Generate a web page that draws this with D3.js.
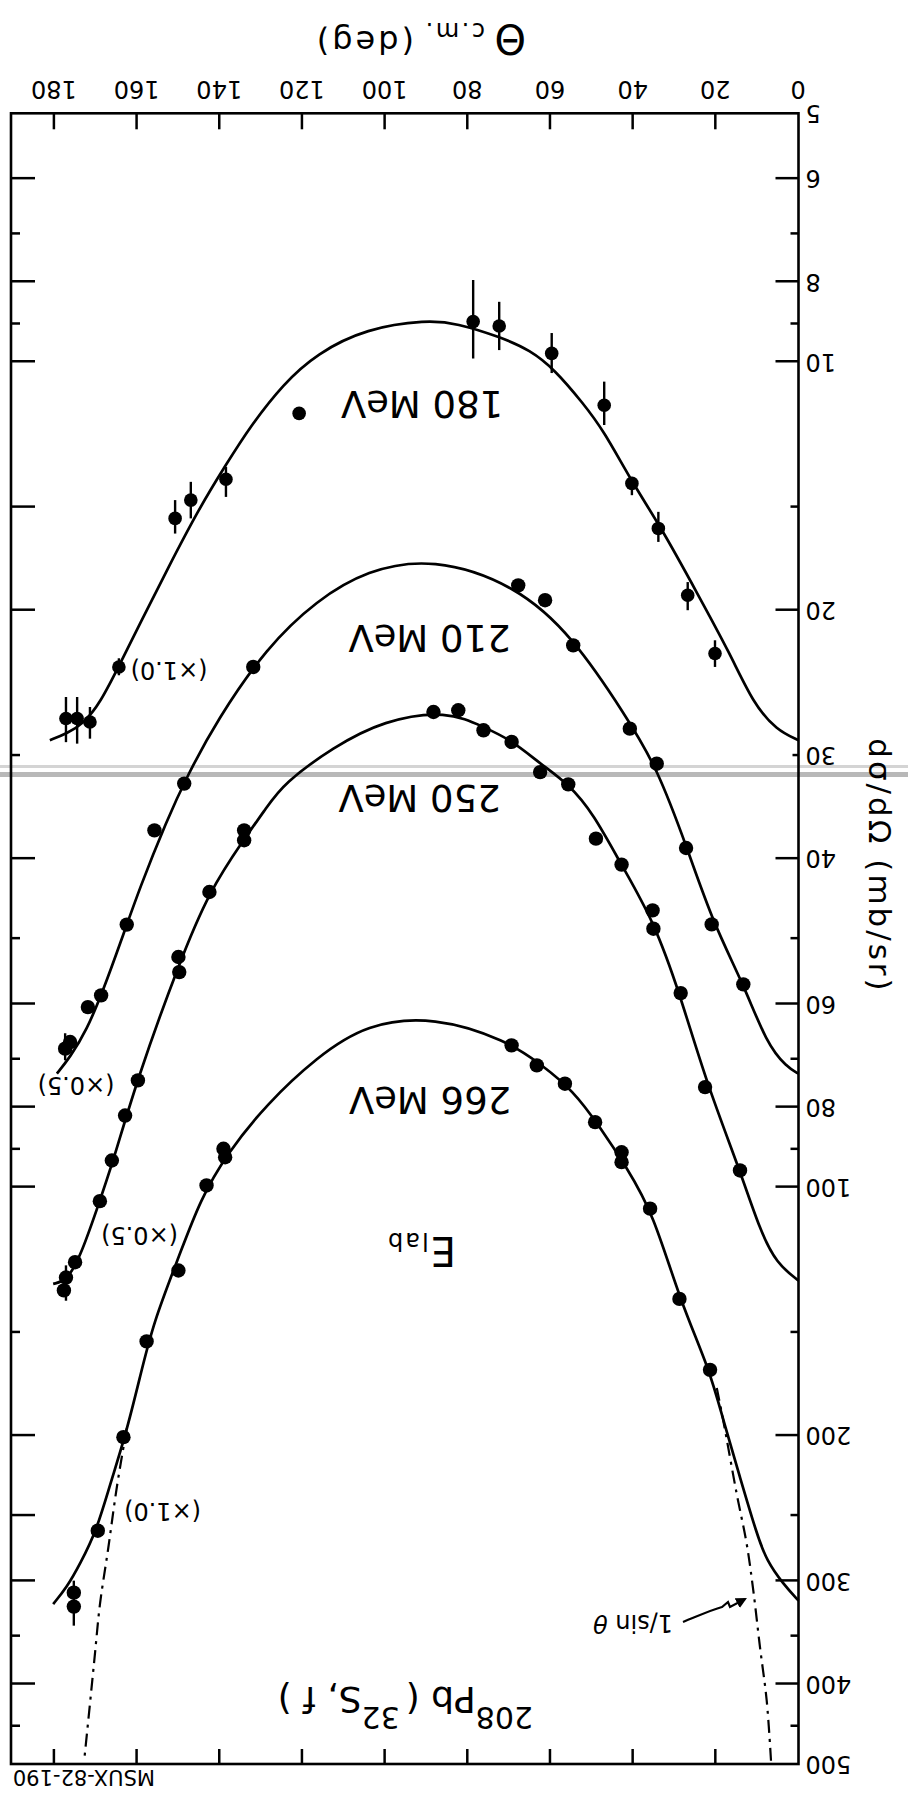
<!DOCTYPE html>
<html>
<head>
<meta charset="utf-8">
<script src="https://cdn.jsdelivr.net/npm/d3@7"></script>
<style>
  html, body { margin: 0; padding: 0; background: #fff; }
  svg { display: block; }
  text { font-family: "DejaVu Sans", sans-serif; fill: #000; }
</style>
</head>
<body>
<svg id="chart" width="908" height="1796"></svg>
<script>
// ---- axis ticks ----
const thetaTicks = [0, 20, 40, 60, 80, 100, 120, 140, 160, 180];
const sigmaLabelTicks = [5, 6, 8, 10, 20, 30, 40, 60, 80, 100, 200, 300, 400, 500];
const sigmaMinorTicks = [7, 9, 15, 50, 70, 90, 150, 250, 350, 450];

// ---- measured cross sections, E_lab = 180 MeV (x1.0) ----
const theta180 = [78.7, 72.4, 59.7, 47.0, 40.3, 33.9, 26.8, 20.2, 120.8, 138.5, 147.0, 150.8, 164.4, 171.4, 174.5, 177.2];
const sigma180 = [8.94, 9.05, 9.77, 11.29, 14.04, 15.92, 19.18, 22.57, 11.55, 13.88, 14.71, 15.48, 23.43, 27.32, 27.05, 27.05];
const lo180 = [7.96, 8.46, 9.23, 10.57, 13.79, 15.2, 18.49, 21.75, null, 13.41, 13.98, 14.71, 22.87, 26.2, 25.48, 25.48];
const hi180 = [9.91, 9.68, 10.32, 11.93, 14.51, 16.53, 20.0, 23.43, null, 14.58, 15.48, 16.15, 23.98, 28.62, 29.02, 28.9];

// ---- 210 MeV (x0.5) ----
const theta210 = [67.8, 61.3, 54.5, 40.8, 34.3, 27.2, 21.0, 13.35, 131.9, 148.6, 155.8, 162.5, 168.7, 171.9, 176.2, 177.4];
const sigma210 = [18.66, 19.45, 22.06, 27.83, 30.69, 38.83, 48.05, 56.8, 23.43, 32.44, 36.96, 48.08, 58.57, 60.52, 66.72, 67.96];
const lo210 = [null, null, null, null, null, null, null, null, null, null, null, null, null, null, null, 65.1];
const hi210 = [null, null, null, null, null, null, null, null, null, null, null, null, null, null, null, 70.2];

// ---- 250 MeV (x0.5) ----
const theta250 = [82.3, 76.2, 69.4, 62.5, 55.7, 49.0, 42.8, 35.3, 35.1, 28.5, 22.6, 14.15, 88.3, 134.1, 134.1, 142.5, 150.0, 149.8, 159.8, 162.9, 166.1, 169.0, 175.0, 177.2, 177.7];
const sigma250 = [26.44, 27.96, 28.88, 31.42, 32.51, 37.83, 40.67, 46.21, 48.63, 58.2, 75.65, 95.46, 26.57, 36.96, 38.0, 43.9, 52.63, 54.89, 74.25, 81.9, 92.84, 104.0, 123.3, 128.7, 133.4];
const lo250 = theta250.map((t, i) => i === 23 ? 124.4 : null);
const hi250 = theta250.map((t, i) => i === 23 ? 137.3 : null);

// ---- 266 MeV (x1.0) ----
const theta266 = [69.4, 63.3, 56.5, 49.2, 42.8, 42.8, 35.9, 28.8, 21.4, 139.1, 138.7, 143.2, 150.0, 157.7, 163.3, 169.5, 175.3, 175.3];
const sigma266 = [67.34, 71.21, 74.94, 83.42, 90.73, 93.28, 106.2, 136.6, 166.5, 89.85, 91.99, 99.54, 126.2, 153.8, 200.9, 260.8, 310.0, 322.3];
const lo266 = theta266.map((t, i) => i === 17 ? 299.8 : null);
const hi266 = theta266.map((t, i) => i === 17 ? 339.9 : null);

// ---- fitted angular distributions ----
const fitTheta180 = [0, 5.27, 10.93, 16.57, 24.24, 33.09, 40.1, 47.2, 52.1, 58.9, 64.9, 72.2, 82.7, 89.9, 104.5, 116.5, 124.6, 132.7, 138.3, 144.8, 152.8, 159.3, 164.1, 169.0, 173.0, 177.0, 181.1];
const fitSigma180 = [28.74, 27.96, 25.95, 22.57, 19.18, 15.92, 14.04, 12.10, 11.23, 10.23, 9.68, 9.33, 8.98, 8.90, 9.11, 9.77, 10.63, 11.99, 13.28, 14.99, 17.89, 20.76, 23.21, 25.95, 27.44, 28.21, 28.74];

const fitTheta210 = [0, 2.85, 7.7, 13.35, 20.6, 27.0, 34.3, 41.6, 54.5, 68.2, 88.5, 104.5, 116.5, 128.6, 140.7, 148.0, 152.8, 159.3, 164.1, 168.2, 172.2, 176.2, 179.4];
const fitSigma210 = [72.87, 71.54, 67.03, 56.69, 47.95, 38.73, 30.97, 26.94, 21.55, 18.66, 17.26, 17.89, 19.45, 22.16, 27.19, 31.85, 35.94, 43.30, 50.71, 57.77, 64.58, 69.57, 72.87];

const fitTheta250 = [0, 5.27, 9.3, 14.15, 22.2, 28.7, 35.1, 42.8, 49.6, 55.7, 62.5, 69.4, 76.2, 85.0, 100.4, 112.5, 124.6, 128.6, 134.3, 142.4, 149.6, 160.1, 165.7, 169.8, 173.8, 177.0, 180.3];
const fitSigma250 = [129.8, 123.8, 112.9, 95.46, 74.94, 58.31, 47.51, 40.75, 35.28, 32.44, 30.69, 28.74, 27.7, 26.45, 27.19, 29.3, 32.44, 34.64, 38.0, 43.7, 53.12, 74.25, 92.84, 106.7, 121.6, 129.8, 131.0];

const fitTheta266 = [0, 3.7, 7.7, 10.1, 14.15, 18.2, 21.4, 28.7, 35.1, 41.6, 48.0, 54.5, 62.5, 70.6, 88.0, 104.5, 116.5, 128.6, 138.3, 144.8, 149.6, 156.1, 159.3, 162.9, 166.5, 169.8, 173.8, 177.0, 180.3];
const fitSigma266 = [317.0, 302.6, 283.6, 263.2, 224.7, 191.8, 166.8, 137.2, 107.7, 94.58, 84.6, 76.35, 70.87, 66.41, 62.1, 63.38, 69.57, 79.25, 91.13, 103.8, 120.4, 146.0, 170.0, 200.9, 228.8, 260.8, 286.2, 305.5, 320.0];

// ---- 1/sin(theta) reference, forward and backward branches ----
const sinFwdTheta = [6.65, 7.69, 9.31, 10.93, 12.53, 14.95, 18.2, 19.8];
const sinFwdSigma = [495.5, 419.0, 361.1, 308.3, 270.6, 235.3, 191.8, 174.8];
const sinBwdTheta = [162.5, 164.9, 166.95, 168.97, 170.2, 171.4, 172.8];
const sinBwdSigma = [196.0, 231.0, 273.3, 319.9, 368.0, 422.9, 495.5];

// ---- text ----
const energyLabels = ["180 MeV", "210 MeV", "250 MeV", "266 MeV"];
const scaleLabels = ["(\u00d71.0)", "(\u00d70.5)", "(\u00d70.5)", "(\u00d71.0)"];

const W = 908, H = 1796;
const svg = d3.select("#chart");
svg.append("rect").attr("width", W).attr("height", H).attr("fill", "#fff");

// faint horizontal band across the sheet
svg.append("rect").attr("x", 0).attr("y", 765).attr("width", W).attr("height", 3).attr("fill", "#d4d4d4");
svg.append("rect").attr("x", 0).attr("y", 772).attr("width", W).attr("height", 5).attr("fill", "#b8b8b8");

// the whole figure is drawn in its natural orientation and turned half a revolution
const g = svg.append("g").attr("transform", `rotate(180,${W / 2},${H / 2})`);

const frame = { left: 109.5, right: 897, top: 32, bottom: 1682.7 };
const x = d3.scaleLinear().domain([0, 180]).range([109.5, 853.6]);
const y = d3.scaleLog().domain([5, 500]).range([frame.bottom, frame.top]);

const INK = "#000";
function styleAxis(sel, fs) {
  sel.attr("font-family", "DejaVu Sans, sans-serif").attr("font-size", fs);
  sel.select(".domain").remove();
  sel.selectAll(".tick line").attr("stroke", INK).attr("stroke-width", 2.5);
  sel.selectAll(".tick text").attr("fill", INK);
}

// left (value) axis with labels
const leftLab = g.append("g").attr("transform", `translate(${frame.left},0)`)
  .call(d3.axisLeft(y).tickValues(sigmaLabelTicks).tickFormat(d => String(d)).tickSize(-23).tickPadding(7));
styleAxis(leftLab, 24);
leftLab.selectAll(".tick line").attr("x2", d => (d === 5 || d === 500) ? 0 : (d === 30 ? 6 : 23));

const leftMinor = g.append("g").attr("transform", `translate(${frame.left},0)`)
  .call(d3.axisLeft(y).tickValues(sigmaMinorTicks).tickFormat("").tickSize(-8));
styleAxis(leftMinor, 24);

// opposite value axis, ticks only
const rightMajorVals = [6, 8, 10, 15, 20, 40, 60, 80, 100, 200, 250, 300, 400];
const rightMinorVals = [7, 9, 30, 50, 70, 90, 150, 350, 450];
const rightMaj = g.append("g").attr("transform", `translate(${frame.right},0)`)
  .call(d3.axisRight(y).tickValues(rightMajorVals).tickFormat("").tickSize(-24));
styleAxis(rightMaj, 24);
const rightMin = g.append("g").attr("transform", `translate(${frame.right},0)`)
  .call(d3.axisRight(y).tickValues(rightMinorVals).tickFormat("").tickSize(-9));
styleAxis(rightMin, 24);

// angle axis with labels
const bottomAx = g.append("g").attr("transform", `translate(0,${frame.bottom})`)
  .call(d3.axisBottom(x).tickValues(thetaTicks).tickFormat(d => String(d)).tickSize(-16).tickPadding(15));
styleAxis(bottomAx, 24);
bottomAx.selectAll(".tick line").attr("y2", d => d === 0 ? 0 : -16);

const topAx = g.append("g").attr("transform", `translate(0,${frame.top})`)
  .call(d3.axisTop(x).tickValues(thetaTicks.slice(1)).tickFormat("").tickSize(-15));
styleAxis(topAx, 24);

// frame
g.append("rect")
  .attr("x", frame.left).attr("y", frame.top)
  .attr("width", frame.right - frame.left).attr("height", frame.bottom - frame.top)
  .attr("fill", "none").attr("stroke", INK).attr("stroke-width", 2.6);

// fitted curves (B-spline through the sampled fit values)
const pairs = (t, s) => t.map((v, i) => [v, s[i]]).sort((a, b) => a[0] - b[0]);
const fitLine = d3.line().x(d => x(d[0])).y(d => y(d[1])).curve(d3.curveBasis);
const refLine = d3.line().x(d => x(d[0])).y(d => y(d[1])).curve(d3.curveCatmullRom.alpha(0.5));
const fits = [
  [fitTheta180, fitSigma180],
  [fitTheta210, fitSigma210],
  [fitTheta250, fitSigma250],
  [fitTheta266, fitSigma266]
];
g.append("g").selectAll("path").data(fits).join("path")
  .attr("d", f => fitLine(pairs(f[0], f[1])))
  .attr("fill", "none").attr("stroke", INK).attr("stroke-width", 2.7);

// 1/sin(theta) branches
const dashDot = "13,6,3,6";
[[sinFwdTheta, sinFwdSigma], [sinBwdTheta, sinBwdSigma]].forEach(b => {
  g.append("path").attr("d", refLine(pairs(b[0], b[1])))
    .attr("fill", "none").attr("stroke", INK).attr("stroke-width", 2.2)
    .attr("stroke-dasharray", dashDot);
});

// data points with error bars
const series = [
  { t: theta180, s: sigma180, lo: lo180, hi: hi180, r: 6.8 },
  { t: theta210, s: sigma210, lo: lo210, hi: hi210, r: 7.2 },
  { t: theta250, s: sigma250, lo: lo250, hi: hi250, r: 7.2 },
  { t: theta266, s: sigma266, lo: lo266, hi: hi266, r: 7.2 }
];
series.forEach(se => {
  const pts = se.t.map((t, i) => ({ t, s: se.s[i], lo: se.lo[i], hi: se.hi[i] }));
  const grp = g.append("g");
  grp.selectAll("line").data(pts.filter(p => p.lo != null)).join("line")
    .attr("x1", p => x(p.t)).attr("x2", p => x(p.t))
    .attr("y1", p => y(p.lo)).attr("y2", p => y(p.hi))
    .attr("stroke", INK).attr("stroke-width", 2.4);
  grp.selectAll("circle").data(pts).join("circle")
    .attr("cx", p => x(p.t)).attr("cy", p => y(p.s)).attr("r", se.r)
    .attr("fill", INK);
});

// curve labels
const energyPos = [[486, 1405], [478.5, 1171], [488.5, 1011], [478, 709]];
g.append("g").selectAll("text").data(energyLabels).join("text")
  .attr("x", (d, i) => energyPos[i][0]).attr("y", (d, i) => energyPos[i][1])
  .attr("text-anchor", "middle").attr("font-size", 37)
  .text(d => d);

const scalePos = [[739, 1134.5], [832, 719], [768.5, 569.5], [745.5, 293]];
g.append("g").selectAll("text").data(scaleLabels).join("text")
  .attr("x", (d, i) => scalePos[i][0]).attr("y", (d, i) => scalePos[i][1])
  .attr("text-anchor", "middle").attr("font-size", 24)
  .text(d => d);

// E_lab
const elab = g.append("text").attr("x", 452).attr("y", 559).attr("font-size", 40);
elab.append("tspan").text("E");
elab.append("tspan").attr("font-size", 24).attr("dx", 2).attr("dy", 4).attr("letter-spacing", 2).text("lab");

// reaction
const rx = g.append("text").attr("x", 375).attr("y", 109).attr("font-size", 36);
rx.append("tspan").attr("font-size", 30).attr("dy", -20).text("208");
rx.append("tspan").attr("dy", 20).text("Pb (");
rx.append("tspan").attr("font-size", 30).attr("dy", -20).attr("dx", 6).text("32");
rx.append("tspan").attr("dy", 20).text("S, f )");

// 1/sin theta annotation with arrow
const sinLab = g.append("text").attr("x", 235).attr("y", 181).attr("font-size", 24);
sinLab.append("tspan").text("1/sin ");
sinLab.append("tspan").attr("font-style", "italic").text("\u03b8");
svg.append("defs").append("marker")
  .attr("id", "head").attr("viewBox", "0 0 10 10").attr("refX", 8).attr("refY", 5)
  .attr("markerWidth", 5).attr("markerHeight", 5).attr("orient", "auto")
  .append("path").attr("d", "M0,0 L10,5 L0,10 Z").attr("fill", INK);
g.append("path")
  .attr("d", "M225,174 C210,180 197,186 186,189 L180,194 L178,189 L163,197")
  .attr("fill", "none").attr("stroke", INK).attr("stroke-width", 2.2)
  .attr("marker-end", "url(#head)");

// axis titles
g.append("text")
  .attr("transform", "translate(28,930) rotate(-90)")
  .attr("text-anchor", "middle").attr("dy", "0.35em")
  .attr("font-size", 31).attr("letter-spacing", 3)
  .text("d\u03c3/d\u03a9 (mb/sr)");

g.append("text").attr("x", 382).attr("y", 1771).attr("font-size", 40).text("\u0398");
g.append("text").attr("x", 423).attr("y", 1773).attr("font-size", 24).attr("letter-spacing", 2.5).text("c.m.");
g.append("text").attr("x", 494).attr("y", 1765).attr("font-size", 32).attr("letter-spacing", 3).text("(deg)");

// sheet id
g.append("text").attr("x", 753).attr("y", 26).attr("font-size", 21).text("MSUX-82-190");
</script>
</body>
</html>
